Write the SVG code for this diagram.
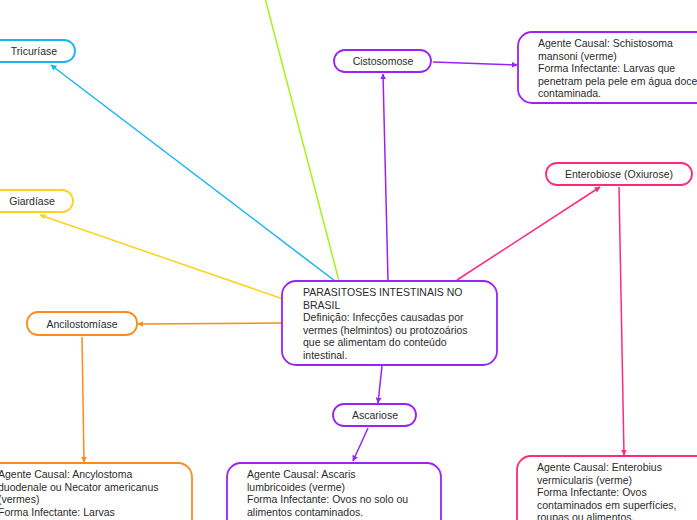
<svg xmlns="http://www.w3.org/2000/svg" width="697" height="520" viewBox="0 0 697 520">
<defs>
<style>
text{font-family:"Liberation Sans",Arial,sans-serif;font-size:10.5px;fill:#2b2b2b}
.c{text-anchor:middle}
.box{fill:#fff;stroke-width:1.8}
.ln{fill:none;stroke-width:1.5}
.pu{stroke:#9b22f5}.bl{stroke:#1ab4f2}.ye{stroke:#fdd31c}.gr{stroke:#a8f01c}.or{stroke:#ff8a1c}.pk{stroke:#ff2a7c}
</style>
<marker id="mpu" viewBox="0 0 10 10" refX="9" refY="5" markerWidth="6" markerHeight="6" orient="auto" markerUnits="userSpaceOnUse"><path d="M0,0L10,5L0,10z" fill="#9b22f5"/></marker>
<marker id="mbl" viewBox="0 0 10 10" refX="9" refY="5" markerWidth="6" markerHeight="6" orient="auto" markerUnits="userSpaceOnUse"><path d="M0,0L10,5L0,10z" fill="#1ab4f2"/></marker>
<marker id="mye" viewBox="0 0 10 10" refX="9" refY="5" markerWidth="6" markerHeight="6" orient="auto" markerUnits="userSpaceOnUse"><path d="M0,0L10,5L0,10z" fill="#fdd31c"/></marker>
<marker id="mor" viewBox="0 0 10 10" refX="9" refY="5" markerWidth="6" markerHeight="6" orient="auto" markerUnits="userSpaceOnUse"><path d="M0,0L10,5L0,10z" fill="#ff8a1c"/></marker>
<marker id="mpk" viewBox="0 0 10 10" refX="9" refY="5" markerWidth="6" markerHeight="6" orient="auto" markerUnits="userSpaceOnUse"><path d="M0,0L10,5L0,10z" fill="#ff2a7c"/></marker>
</defs>
<rect width="697" height="520" fill="#fff"/>
<g id="connectors">
<line class="ln gr" x1="265" y1="-2" x2="339" y2="281"/>
<line class="ln bl" x1="335" y1="281" x2="51" y2="65" marker-end="url(#mbl)"/>
<line class="ln ye" x1="283" y1="299" x2="40" y2="215" marker-end="url(#mye)"/>
<line class="ln pu" x1="388" y1="280" x2="383" y2="74" marker-end="url(#mpu)"/>
<line class="ln pu" x1="433" y1="62" x2="517" y2="65" marker-end="url(#mpu)"/>
<line class="ln pk" x1="457" y1="280" x2="600" y2="187" marker-end="url(#mpk)"/>
<line class="ln pk" x1="619" y1="187" x2="624" y2="455" marker-end="url(#mpk)"/>
<line class="ln or" x1="282" y1="323" x2="138" y2="324" marker-end="url(#mor)"/>
<line class="ln or" x1="82" y1="337" x2="84" y2="462" marker-end="url(#mor)"/>
<line class="ln pu" x1="382" y1="366" x2="378" y2="403" marker-end="url(#mpu)"/>
<line class="ln pu" x1="368" y1="428" x2="353" y2="461" marker-end="url(#mpu)"/>
</g>
<g id="tricuriase">
<rect class="box bl" x="-12" y="40" width="87" height="22" rx="11"/>
<text class="c" x="34" y="55">Tricuríase</text>
</g>
<g id="giardiase">
<rect class="box ye" x="-12" y="190" width="85" height="22" rx="11"/>
<text class="c" x="32" y="205">Giardíase</text>
</g>
<g id="cistosomose">
<rect class="box pu" x="334" y="50" width="97" height="22" rx="11"/>
<text class="c" x="383" y="65">Cistosomose</text>
</g>
<g id="schistosoma">
<rect class="box pu" x="518" y="32" width="200" height="71" rx="14"/>
<text x="538" y="47">Agente Causal: Schistosoma</text>
<text x="538" y="59.5">mansoni (verme)</text>
<text x="538" y="72">Forma Infectante: Larvas que</text>
<text x="538" y="84.5">penetram pela pele em água doce</text>
<text x="538" y="97">contaminada.</text>
</g>
<g id="enterobiose">
<rect class="box pk" x="546" y="163" width="146" height="22" rx="11"/>
<text class="c" x="619" y="178">Enterobiose (Oxiurose)</text>
</g>
<g id="enterobius">
<rect class="box pk" x="517" y="456" width="200" height="80" rx="14"/>
<text x="537" y="471">Agente Causal: Enterobius</text>
<text x="537" y="483.5">vermicularis (verme)</text>
<text x="537" y="496">Forma Infectante: Ovos</text>
<text x="537" y="508.5">contaminados em superfícies,</text>
<text x="537" y="521">roupas ou alimentos.</text>
</g>
<g id="central">
<rect class="box pu" x="282" y="281" width="215" height="84" rx="14"/>
<text x="303" y="296">PARASITOSES INTESTINAIS NO</text>
<text x="303" y="308.5">BRASIL</text>
<text x="303" y="321">Definição: Infecções causadas por</text>
<text x="303" y="333.5">vermes (helmintos) ou protozoários</text>
<text x="303" y="346">que se alimentam do conteúdo</text>
<text x="303" y="358.5">intestinal.</text>
</g>
<g id="ancilostomiase">
<rect class="box or" x="27" y="312" width="110" height="23" rx="11"/>
<text class="c" x="82" y="327.5">Ancilostomíase</text>
</g>
<g id="ancylostoma">
<rect class="box or" x="-20" y="463" width="212" height="80" rx="14"/>
<text x="-2" y="478">Agente Causal: Ancylostoma</text>
<text x="-2" y="490.5">duodenale ou Necator americanus</text>
<text x="-2" y="503">(vermes)</text>
<text x="-2" y="515.5">Forma Infectante: Larvas</text>
</g>
<g id="ascariose">
<rect class="box pu" x="333" y="404" width="83" height="22" rx="11"/>
<text class="c" x="375" y="419">Ascariose</text>
</g>
<g id="ascaris">
<rect class="box pu" x="227" y="463" width="214" height="80" rx="14"/>
<text x="247" y="478">Agente Causal: Ascaris</text>
<text x="247" y="490.5">lumbricoides (verme)</text>
<text x="247" y="503">Forma Infectante: Ovos no solo ou</text>
<text x="247" y="515.5">alimentos contaminados.</text>
</g>
</svg>
